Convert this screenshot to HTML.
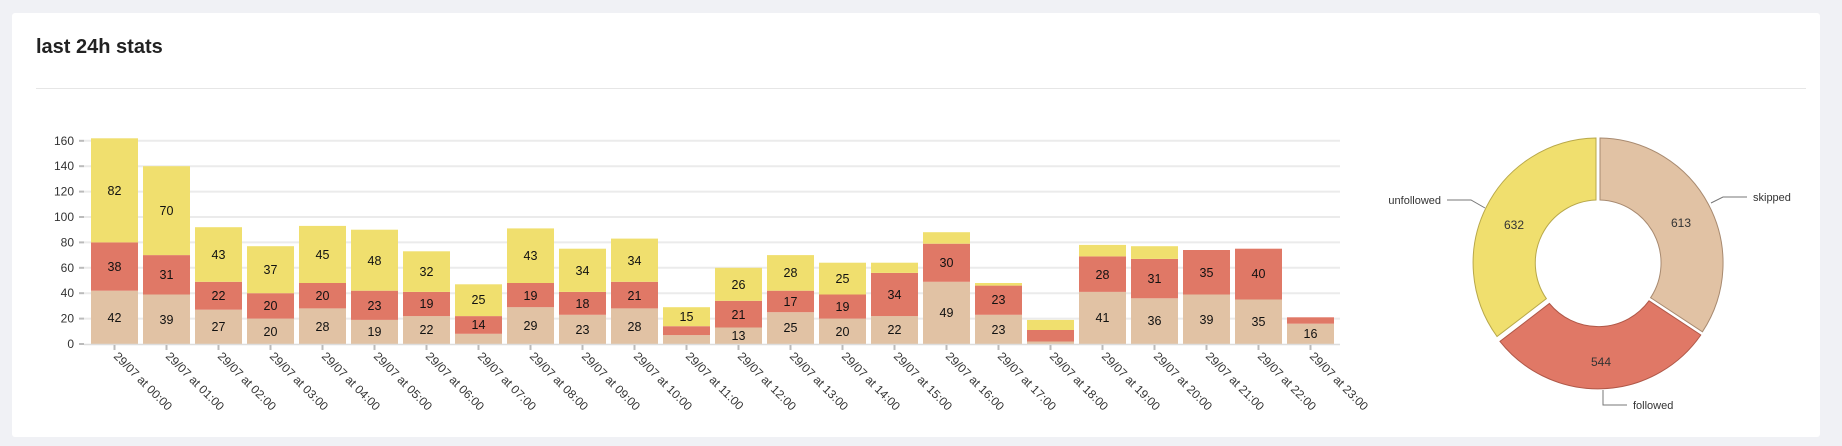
<!DOCTYPE html>
<html><head><meta charset="utf-8"><style>
html,body{margin:0;padding:0;background:#f0f1f5;width:1842px;height:446px;overflow:hidden}
.card{position:absolute;left:12px;top:13px;width:1808px;height:424px;background:#fff;border-radius:3px}
h1{position:absolute;left:36px;top:36px;margin:0;font:bold 20px "Liberation Sans",sans-serif;color:#222}
.hr{position:absolute;left:36px;top:88px;width:1770px;height:1px;background:#e6e6e6}
svg{position:absolute;left:0;top:0}
text{font-family:"Liberation Sans",sans-serif}
</style></head><body>
<div class="card"></div>
<h1>last 24h stats</h1>
<div class="hr"></div>
<svg width="1842" height="446">
<g stroke="#ebebeb" stroke-width="2">
<line x1="84" x2="1340" y1="318.6" y2="318.6"/><line x1="84" x2="1340" y1="293.2" y2="293.2"/><line x1="84" x2="1340" y1="267.8" y2="267.8"/><line x1="84" x2="1340" y1="242.4" y2="242.4"/><line x1="84" x2="1340" y1="217" y2="217"/><line x1="84" x2="1340" y1="191.6" y2="191.6"/><line x1="84" x2="1340" y1="166.2" y2="166.2"/><line x1="84" x2="1340" y1="140.8" y2="140.8"/>
</g>
<g font-size="12" fill="#333" text-anchor="end">
<text x="74" y="348">0</text><text x="74" y="322.6">20</text><text x="74" y="297.2">40</text><text x="74" y="271.8">60</text><text x="74" y="246.4">80</text><text x="74" y="221">100</text><text x="74" y="195.6">120</text><text x="74" y="170.2">140</text><text x="74" y="144.8">160</text>
</g>
<g stroke="#bbb" stroke-width="2">
<line x1="79" x2="84" y1="344" y2="344"/><line x1="79" x2="84" y1="318.6" y2="318.6"/><line x1="79" x2="84" y1="293.2" y2="293.2"/><line x1="79" x2="84" y1="267.8" y2="267.8"/><line x1="79" x2="84" y1="242.4" y2="242.4"/><line x1="79" x2="84" y1="217" y2="217"/><line x1="79" x2="84" y1="191.6" y2="191.6"/><line x1="79" x2="84" y1="166.2" y2="166.2"/><line x1="79" x2="84" y1="140.8" y2="140.8"/>
</g>
<g>
<!-- bars: beige, red, yellow -->
<rect x="91" y="290.7" width="47" height="53.3" fill="#e1c2a4"/><rect x="91" y="242.4" width="47" height="48.3" fill="#e07866"/><rect x="91" y="138.3" width="47" height="104.1" fill="#f0df6e"/>
<rect x="143" y="294.5" width="47" height="49.5" fill="#e1c2a4"/><rect x="143" y="255.1" width="47" height="39.4" fill="#e07866"/><rect x="143" y="166.2" width="47" height="88.9" fill="#f0df6e"/>
<rect x="195" y="309.7" width="47" height="34.3" fill="#e1c2a4"/><rect x="195" y="281.8" width="47" height="27.9" fill="#e07866"/><rect x="195" y="227.2" width="47" height="54.6" fill="#f0df6e"/>
<rect x="247" y="318.6" width="47" height="25.4" fill="#e1c2a4"/><rect x="247" y="293.2" width="47" height="25.4" fill="#e07866"/><rect x="247" y="246.2" width="47" height="47" fill="#f0df6e"/>
<rect x="299" y="308.4" width="47" height="35.6" fill="#e1c2a4"/><rect x="299" y="283" width="47" height="25.4" fill="#e07866"/><rect x="299" y="225.9" width="47" height="57.1" fill="#f0df6e"/>
<rect x="351" y="319.9" width="47" height="24.1" fill="#e1c2a4"/><rect x="351" y="290.7" width="47" height="29.2" fill="#e07866"/><rect x="351" y="229.7" width="47" height="61" fill="#f0df6e"/>
<rect x="403" y="316.1" width="47" height="27.9" fill="#e1c2a4"/><rect x="403" y="291.9" width="47" height="24.2" fill="#e07866"/><rect x="403" y="251.3" width="47" height="40.6" fill="#f0df6e"/>
<rect x="455" y="333.8" width="47" height="10.2" fill="#e1c2a4"/><rect x="455" y="316.1" width="47" height="17.7" fill="#e07866"/><rect x="455" y="284.3" width="47" height="31.8" fill="#f0df6e"/>
<rect x="507" y="307.2" width="47" height="36.8" fill="#e1c2a4"/><rect x="507" y="283" width="47" height="24.2" fill="#e07866"/><rect x="507" y="228.4" width="47" height="54.6" fill="#f0df6e"/>
<rect x="559" y="314.8" width="47" height="29.2" fill="#e1c2a4"/><rect x="559" y="291.9" width="47" height="22.9" fill="#e07866"/><rect x="559" y="248.7" width="47" height="43.2" fill="#f0df6e"/>
<rect x="611" y="308.4" width="47" height="35.6" fill="#e1c2a4"/><rect x="611" y="281.8" width="47" height="26.6" fill="#e07866"/><rect x="611" y="238.6" width="47" height="43.2" fill="#f0df6e"/>
<rect x="663" y="335.1" width="47" height="8.9" fill="#e1c2a4"/><rect x="663" y="326.2" width="47" height="8.9" fill="#e07866"/><rect x="663" y="307.2" width="47" height="19" fill="#f0df6e"/>
<rect x="715" y="327.5" width="47" height="16.5" fill="#e1c2a4"/><rect x="715" y="300.8" width="47" height="26.7" fill="#e07866"/><rect x="715" y="267.8" width="47" height="33" fill="#f0df6e"/>
<rect x="767" y="312.2" width="47" height="31.8" fill="#e1c2a4"/><rect x="767" y="290.7" width="47" height="21.5" fill="#e07866"/><rect x="767" y="255.1" width="47" height="35.6" fill="#f0df6e"/>
<rect x="819" y="318.6" width="47" height="25.4" fill="#e1c2a4"/><rect x="819" y="294.5" width="47" height="24.1" fill="#e07866"/><rect x="819" y="262.7" width="47" height="31.8" fill="#f0df6e"/>
<rect x="871" y="316.1" width="47" height="27.9" fill="#e1c2a4"/><rect x="871" y="272.9" width="47" height="43.2" fill="#e07866"/><rect x="871" y="262.7" width="47" height="10.2" fill="#f0df6e"/>
<rect x="923" y="281.8" width="47" height="62.2" fill="#e1c2a4"/><rect x="923" y="243.7" width="47" height="38.1" fill="#e07866"/><rect x="923" y="232.2" width="47" height="11.5" fill="#f0df6e"/>
<rect x="975" y="314.8" width="47" height="29.2" fill="#e1c2a4"/><rect x="975" y="285.6" width="47" height="29.2" fill="#e07866"/><rect x="975" y="283" width="47" height="2.6" fill="#f0df6e"/>
<rect x="1027" y="341.5" width="47" height="2.5" fill="#e1c2a4"/><rect x="1027" y="330" width="47" height="11.5" fill="#e07866"/><rect x="1027" y="319.9" width="47" height="10.1" fill="#f0df6e"/>
<rect x="1079" y="291.9" width="47" height="52.1" fill="#e1c2a4"/><rect x="1079" y="256.4" width="47" height="35.5" fill="#e07866"/><rect x="1079" y="244.9" width="47" height="11.5" fill="#f0df6e"/>
<rect x="1131" y="298.3" width="47" height="45.7" fill="#e1c2a4"/><rect x="1131" y="258.9" width="47" height="39.4" fill="#e07866"/><rect x="1131" y="246.2" width="47" height="12.7" fill="#f0df6e"/>
<rect x="1183" y="294.5" width="47" height="49.5" fill="#e1c2a4"/><rect x="1183" y="250" width="47" height="44.5" fill="#e07866"/>
<rect x="1235" y="299.5" width="47" height="44.5" fill="#e1c2a4"/><rect x="1235" y="248.7" width="47" height="50.8" fill="#e07866"/>
<rect x="1287" y="323.7" width="47" height="20.3" fill="#e1c2a4"/><rect x="1287" y="317.3" width="47" height="6.4" fill="#e07866"/>
</g>
<line x1="84" x2="1340" y1="344.5" y2="344.5" stroke="#ddd" stroke-width="1.5"/>
<g font-size="12.5" fill="#111" text-anchor="middle">
<text x="114.5" y="322">42</text><text x="114.5" y="271">38</text><text x="114.5" y="195">82</text>
<text x="166.5" y="324">39</text><text x="166.5" y="279">31</text><text x="166.5" y="215">70</text>
<text x="218.5" y="331">27</text><text x="218.5" y="300">22</text><text x="218.5" y="259">43</text>
<text x="270.5" y="336">20</text><text x="270.5" y="310">20</text><text x="270.5" y="274">37</text>
<text x="322.5" y="331">28</text><text x="322.5" y="300">20</text><text x="322.5" y="259">45</text>
<text x="374.5" y="336">19</text><text x="374.5" y="310">23</text><text x="374.5" y="265">48</text>
<text x="426.5" y="334">22</text><text x="426.5" y="308">19</text><text x="426.5" y="276">32</text>
<text x="478.5" y="329">14</text><text x="478.5" y="304">25</text>
<text x="530.5" y="330">29</text><text x="530.5" y="300">19</text><text x="530.5" y="260">43</text>
<text x="582.5" y="334">23</text><text x="582.5" y="308">18</text><text x="582.5" y="275">34</text>
<text x="634.5" y="331">28</text><text x="634.5" y="300">21</text><text x="634.5" y="265">34</text>
<text x="686.5" y="321">15</text>
<text x="738.5" y="340">13</text><text x="738.5" y="319">21</text><text x="738.5" y="289">26</text>
<text x="790.5" y="332">25</text><text x="790.5" y="306">17</text><text x="790.5" y="277">28</text>
<text x="842.5" y="336">20</text><text x="842.5" y="311">19</text><text x="842.5" y="283">25</text>
<text x="894.5" y="334">22</text><text x="894.5" y="299">34</text>
<text x="946.5" y="317">49</text><text x="946.5" y="267">30</text>
<text x="998.5" y="334">23</text><text x="998.5" y="304">23</text>
<text x="1102.5" y="322">41</text><text x="1102.5" y="279">28</text>
<text x="1154.5" y="325">36</text><text x="1154.5" y="283">31</text>
<text x="1206.5" y="324">39</text><text x="1206.5" y="277">35</text>
<text x="1258.5" y="326">35</text><text x="1258.5" y="278">40</text>
<text x="1310.5" y="338">16</text>
</g>
<g stroke="#bbb" stroke-width="2">
<line x1="114.5" x2="114.5" y1="345" y2="350"/><line x1="166.5" x2="166.5" y1="345" y2="350"/><line x1="218.5" x2="218.5" y1="345" y2="350"/><line x1="270.5" x2="270.5" y1="345" y2="350"/><line x1="322.5" x2="322.5" y1="345" y2="350"/><line x1="374.5" x2="374.5" y1="345" y2="350"/><line x1="426.5" x2="426.5" y1="345" y2="350"/><line x1="478.5" x2="478.5" y1="345" y2="350"/><line x1="530.5" x2="530.5" y1="345" y2="350"/><line x1="582.5" x2="582.5" y1="345" y2="350"/><line x1="634.5" x2="634.5" y1="345" y2="350"/><line x1="686.5" x2="686.5" y1="345" y2="350"/><line x1="738.5" x2="738.5" y1="345" y2="350"/><line x1="790.5" x2="790.5" y1="345" y2="350"/><line x1="842.5" x2="842.5" y1="345" y2="350"/><line x1="894.5" x2="894.5" y1="345" y2="350"/><line x1="946.5" x2="946.5" y1="345" y2="350"/><line x1="998.5" x2="998.5" y1="345" y2="350"/><line x1="1050.5" x2="1050.5" y1="345" y2="350"/><line x1="1102.5" x2="1102.5" y1="345" y2="350"/><line x1="1154.5" x2="1154.5" y1="345" y2="350"/><line x1="1206.5" x2="1206.5" y1="345" y2="350"/><line x1="1258.5" x2="1258.5" y1="345" y2="350"/><line x1="1310.5" x2="1310.5" y1="345" y2="350"/>
</g>
<g font-size="12" fill="#333">
<text transform="translate(113,357) rotate(45)">29/07 at 00:00</text>
<text transform="translate(165,357) rotate(45)">29/07 at 01:00</text>
<text transform="translate(217,357) rotate(45)">29/07 at 02:00</text>
<text transform="translate(269,357) rotate(45)">29/07 at 03:00</text>
<text transform="translate(321,357) rotate(45)">29/07 at 04:00</text>
<text transform="translate(373,357) rotate(45)">29/07 at 05:00</text>
<text transform="translate(425,357) rotate(45)">29/07 at 06:00</text>
<text transform="translate(477,357) rotate(45)">29/07 at 07:00</text>
<text transform="translate(529,357) rotate(45)">29/07 at 08:00</text>
<text transform="translate(581,357) rotate(45)">29/07 at 09:00</text>
<text transform="translate(633,357) rotate(45)">29/07 at 10:00</text>
<text transform="translate(685,357) rotate(45)">29/07 at 11:00</text>
<text transform="translate(737,357) rotate(45)">29/07 at 12:00</text>
<text transform="translate(789,357) rotate(45)">29/07 at 13:00</text>
<text transform="translate(841,357) rotate(45)">29/07 at 14:00</text>
<text transform="translate(893,357) rotate(45)">29/07 at 15:00</text>
<text transform="translate(945,357) rotate(45)">29/07 at 16:00</text>
<text transform="translate(997,357) rotate(45)">29/07 at 17:00</text>
<text transform="translate(1049,357) rotate(45)">29/07 at 18:00</text>
<text transform="translate(1101,357) rotate(45)">29/07 at 19:00</text>
<text transform="translate(1153,357) rotate(45)">29/07 at 20:00</text>
<text transform="translate(1205,357) rotate(45)">29/07 at 21:00</text>
<text transform="translate(1257,357) rotate(45)">29/07 at 22:00</text>
<text transform="translate(1309,357) rotate(45)">29/07 at 23:00</text>
</g>
<!-- donut -->
<g stroke-width="1">
<path d="M1600,138 A125,125 0 0 1 1702.4,331.8 L1650.6,297.7 A63,63 0 0 0 1600,200 Z" fill="#e1c2a4" stroke="#a88a70"/>
<path d="M1700.8,335 A125,125 0 0 1 1500,341.4 L1549.4,303.5 A63,63 0 0 0 1649,300.8 Z" fill="#e07866" stroke="#b05848"/>
<path d="M1497,336.5 A125,125 0 0 1 1596,138 L1596,200 A63,63 0 0 0 1546.4,298.7 Z" fill="#f0df6e" stroke="#b8a84a"/>
</g>
<g font-size="12" fill="#333" text-anchor="middle">
<text x="1514" y="229">632</text><text x="1681" y="227">613</text><text x="1601" y="366">544</text>
</g>
<g fill="none" stroke="#777" stroke-width="1">
<polyline points="1711,203 1723,197 1747,197"/>
<polyline points="1447,200 1471,200 1485,208"/>
<polyline points="1603,390 1603,405 1627,405"/>
</g>
<g font-size="11" fill="#333">
<text x="1753" y="201">skipped</text>
<text x="1441" y="204" text-anchor="end">unfollowed</text>
<text x="1633" y="409">followed</text>
</g>
</svg>
</body></html>
